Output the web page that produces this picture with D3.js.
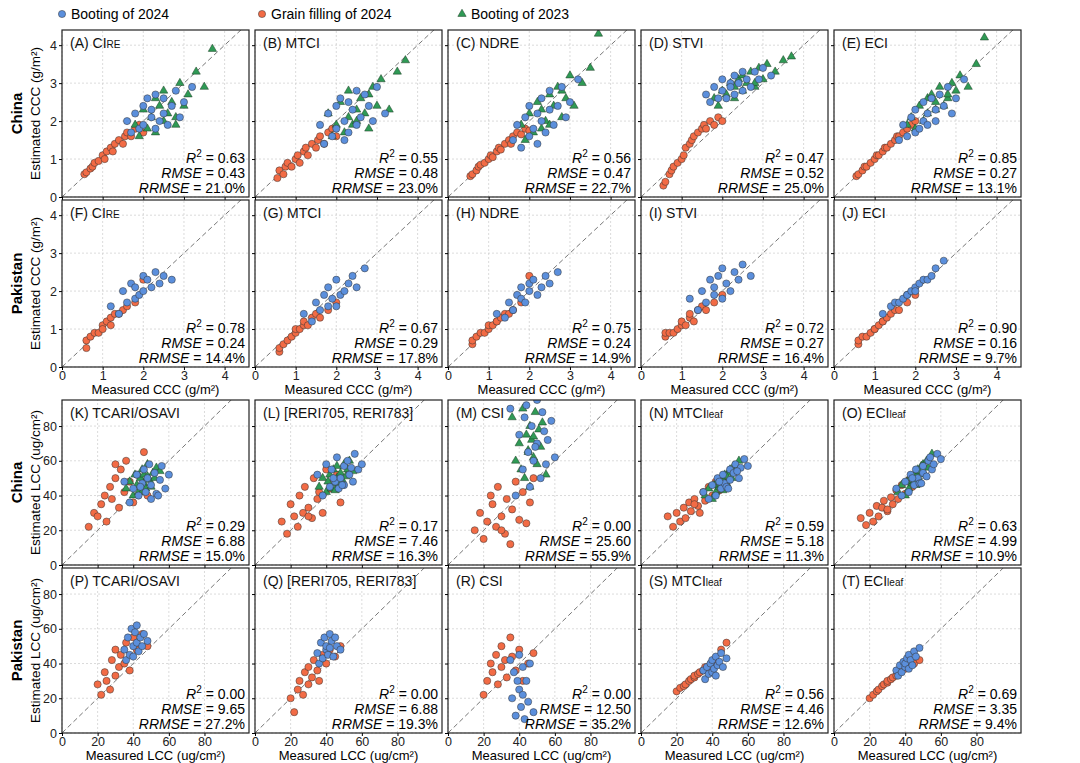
<!DOCTYPE html>
<html><head><meta charset="utf-8">
<script src="https://cdn.jsdelivr.net/npm/d3@7"></script>
<style>body{margin:0;background:#fff;font-family:"Liberation Sans",Arial,sans-serif}</style>
</head><body><svg id="c" width="1080" height="763"></svg>
<script>
// measured values (x) per sample set
const ccB24 = [1.6,1.7,1.8,1.9,2.0,2.0,2.1,2.2,2.2,2.3,2.3,2.4,2.5,2.5,2.6,2.7,2.8,2.9,3.0,3.2];
const ccG24 = [0.55,0.6,0.7,0.75,0.8,0.9,1.0,1.05,1.1,1.2,1.25,1.3,1.4,1.5,1.55,1.6,1.7,1.8,1.9,2.0];
const ccB23 = [1.8,1.9,2.0,2.1,2.2,2.3,2.3,2.4,2.5,2.5,2.6,2.7,2.8,2.9,3.0,3.1,3.3,3.5,3.7,2.8];
const pcB = [1.2,1.4,1.5,1.6,1.7,1.8,1.8,1.9,2.0,2.0,2.1,2.2,2.3,2.4,2.5,2.7];
const pcG = [0.6,0.6,0.7,0.8,0.9,1.0,1.0,1.1,1.2,1.2,1.3,1.4,1.5,1.6,1.8,2.0];
const clB24 = [35,38,40,42,43,45,46,47,48,50,50,52,53,55,56,58,60,44,49,54];
const clG24 = [15,18,20,22,24,25,27,28,30,32,33,35,36,38,40,42,44,46,48,30];
const clB23 = [36,38,40,41,42,43,44,45,46,46,47,48,49,50,51,52,53,55,45,48];
const plB = [35,36,37,38,39,40,40,41,42,42,43,44,45,46,48];
const plG = [20,22,24,25,27,28,30,30,32,33,35,36,38,40,42,45,48];

// panel titles [main, subscript]
const titles = [
 ["(A) CI","RE"],["(B) MTCI",""],["(C) NDRE",""],["(D) STVI",""],["(E) ECI",""],
 ["(F) CI","RE"],["(G) MTCI",""],["(H) NDRE",""],["(I) STVI",""],["(J) ECI",""],
 ["(K) TCARI/OSAVI",""],["(L) [RERI705, RERI783]",""],["(M) CSI",""],["(N) MTCI","leaf"],["(O) ECI","leaf"],
 ["(P) TCARI/OSAVI",""],["(Q) [RERI705, RERI783]",""],["(R) CSI",""],["(S) MTCI","leaf"],["(T) ECI","leaf"]];
const r2 = ["0.63","0.55","0.56","0.47","0.85","0.78","0.67","0.75","0.72","0.90","0.29","0.17","0.00","0.59","0.63","0.00","0.00","0.00","0.56","0.69"];
const rmse = ["0.43","0.48","0.47","0.52","0.27","0.24","0.29","0.24","0.27","0.16","6.88","7.46","25.60","5.18","4.99","9.65","6.88","12.50","4.46","3.35"];
const rrmse = ["21.0%","23.0%","22.7%","25.0%","13.1%","14.4%","17.8%","14.9%","16.4%","9.7%","15.0%","16.3%","55.9%","11.3%","10.9%","27.2%","19.3%","35.2%","12.6%","9.4%"];

// estimated values (y): [grain filling 2024, booting 2024, booting 2023]
const est = [
 [[0.6,0.65,0.75,0.8,0.9,0.95,1.1,1.0,1.2,1.3,1.2,1.4,1.5,1.4,1.6,1.7,1.6,1.8,1.9,1.7],
  [2.0,1.7,2.2,1.8,2.4,1.9,2.6,2.1,2.3,1.8,2.7,2.0,2.2,2.6,1.9,2.4,2.8,2.1,2.5,2.9],
  [1.9,1.6,2.3,1.8,2.1,2.6,1.7,2.4,2.0,2.8,2.2,2.5,1.9,3.0,2.4,2.7,3.3,2.9,3.9,2.1]],
 [[0.5,0.7,0.6,0.8,0.9,0.8,1.0,1.1,0.9,1.2,1.3,1.1,1.4,1.3,1.5,1.6,1.4,1.7,1.8,1.6],
  [1.9,1.4,2.2,1.6,2.4,1.8,2.6,1.5,2.0,2.5,1.7,2.3,2.8,1.9,2.1,2.7,2.4,2.0,2.9,2.2],
  [2.2,1.6,1.9,2.5,1.7,2.1,2.8,1.9,2.3,2.0,2.6,2.2,1.8,2.9,2.4,3.1,2.3,3.3,3.6,2.7]],
 [[0.55,0.6,0.7,0.8,0.85,0.9,1.0,1.1,1.05,1.2,1.3,1.25,1.4,1.5,1.4,1.6,1.7,1.65,1.8,1.75],
  [1.5,1.9,1.3,2.1,1.6,2.4,1.8,1.4,2.2,2.0,2.6,1.7,2.3,2.8,1.9,2.4,2.9,2.1,2.5,3.1],
  [1.9,1.5,2.2,1.7,2.5,1.8,2.3,2.0,2.7,1.9,2.4,2.9,2.1,2.6,3.2,2.4,3.0,3.4,4.3,2.8]],
 [[0.3,0.4,0.6,0.7,0.8,0.9,1.0,1.1,1.3,1.4,1.5,1.6,1.7,1.8,1.9,1.8,2.0,1.9,2.1,2.0],
  [2.7,2.5,2.9,2.6,3.1,2.8,2.6,3.0,2.9,3.2,2.7,3.0,3.3,2.8,3.1,2.9,3.3,3.1,3.4,3.2],
  [2.6,2.4,2.8,2.7,3.0,2.6,2.9,3.1,2.8,3.2,3.0,3.3,2.9,3.4,3.1,3.5,3.3,3.6,3.7,3.0]],
 [[0.55,0.6,0.7,0.8,0.8,0.9,1.0,1.1,1.1,1.2,1.3,1.3,1.4,1.5,1.6,1.6,1.7,1.8,1.9,2.0],
  [1.5,1.9,1.6,2.1,1.7,2.3,1.8,2.0,2.5,2.2,1.9,2.6,2.3,2.0,2.7,2.4,2.9,2.2,2.6,3.1],
  [1.9,2.1,1.8,2.4,2.0,2.6,2.2,2.7,2.3,2.5,2.9,2.4,2.6,3.0,2.8,3.2,2.9,3.5,4.2,2.7]],
 [[0.5,0.7,0.8,0.9,0.9,1.1,1.0,1.2,1.3,1.1,1.4,1.4,1.5,1.6,1.7,2.3],
  [1.6,1.4,2.0,1.7,2.2,1.8,2.1,1.9,2.4,2.0,2.3,2.1,2.5,2.2,2.4,2.3]],
 [[0.4,0.5,0.6,0.7,0.8,0.9,1.0,1.0,1.1,1.2,1.1,1.3,1.4,1.3,1.5,1.7],
  [1.4,1.2,1.7,1.5,1.9,1.6,2.1,1.8,1.6,2.3,1.9,2.0,2.2,2.4,2.1,2.6]],
 [[0.6,0.7,0.8,0.9,0.9,1.0,1.1,1.1,1.2,1.2,1.3,1.4,1.4,1.5,1.7,2.4],
  [1.4,1.3,1.7,1.5,1.9,1.8,2.1,1.7,2.2,2.0,2.3,1.9,2.1,2.4,2.2,2.5]],
 [[0.8,0.9,0.9,0.9,1.0,1.1,1.2,1.1,1.3,1.4,1.2,1.5,1.6,1.5,1.7,1.9],
  [1.8,1.5,2.0,1.7,2.3,1.9,2.1,2.4,1.8,2.6,2.2,2.0,2.5,2.3,2.7,2.4]],
 [[0.6,0.7,0.8,0.8,0.9,1.0,1.0,1.1,1.2,1.2,1.3,1.4,1.5,1.5,1.7,1.9],
  [1.4,1.6,1.7,1.7,1.8,1.9,1.9,2.0,2.1,2.0,2.2,2.3,2.3,2.4,2.6,2.8]],
 [[22,30,28,35,40,25,45,38,50,33,55,42,60,48,36,52,44,65,40,58],
  [48,36,44,52,40,47,55,42,50,38,46,53,41,49,57,44,52,45,58,40],
  [44,48,40,52,46,42,50,55,47,52,44,58,49,45,53,50,56,54,42,51]],
 [[25,18,35,28,22,40,30,45,33,27,50,38,42,30,55,44,48,52,36,28],
  [52,40,58,45,55,48,62,44,50,57,46,60,52,48,64,55,58,50,46,56],
  [45,50,42,48,52,44,55,47,50,57,46,53,49,58,51,55,60,54,43,48]],
 [[20,30,15,25,40,35,22,45,28,18,38,12,32,48,26,42,24,36,50,20],
  [90,40,75,55,85,65,45,80,60,95,70,50,88,58,72,83,62,92,68,77],
  [85,60,70,55,90,50,75,65,80,45,72,62,88,58,78,68,82,52,66,74]],
 [[28,22,30,25,33,27,36,31,38,34,30,42,37,45,40,48,43,50,46,35],
  [42,38,46,40,50,44,52,47,45,55,49,53,58,50,56,61,57,48,44,54],
  [40,44,38,46,42,48,45,50,43,49,52,47,53,55,50,57,54,60,46,51]],
 [[27,23,30,25,34,28,33,37,31,39,35,43,38,46,41,49,45,52,47,32],
  [44,40,48,42,52,46,55,50,47,57,53,51,60,55,58,64,61,50,47,62],
  [42,46,40,48,44,50,47,52,46,53,55,49,57,58,52,60,56,64,48,54]],
 [[28,22,35,30,25,42,33,48,38,45,40,52,36,55,48,57,50],
  [48,42,55,45,60,50,44,58,52,62,47,55,50,57,53]],
 [[20,12,25,30,22,35,28,38,32,42,36,30,45,40,48,44,50],
  [46,40,52,43,55,48,50,45,57,49,53,44,55,50,48]],
 [[22,30,40,35,45,28,50,38,42,32,55,44,36,48,30,40,46],
  [42,20,35,10,30,45,25,15,38,22,8,30,18,40,12]],
 [[24,26,27,28,30,31,32,33,34,35,36,38,37,40,42,48,52],
  [36,31,38,34,40,35,42,37,33,44,39,41,46,38,43]],
 [[20,22,24,25,27,28,29,30,31,32,33,35,36,37,38,40,42],
  [36,33,39,35,41,38,40,43,37,45,42,39,47,44,49]]
];
const measured = [[ccG24,ccB24,ccB23],[pcG,pcB],[clG24,clB24,clB23],[plG,plB]];
const colors = ["#f26b45","#5b8fdc","#2f9a55"];
const legend = ["Booting of 2024","Grain filling of 2024","Booting of 2023"];

const svg = d3.select("#c");
const colX = [62,255,448,641,834], pw = 187;
const rowY = [[30,197],[200,367],[400,565],[568,733]];
const xDom = [[0,4.6],[0,4.6],[0,105],[0,105]];
const yDom = [[0,4.4],[0,4.4],[0,95],[0,95]];
const ticks = [[0,1,2,3,4],[0,1,2,3,4],[0,20,40,60,80],[0,20,40,60,80]];

svg.append("defs").selectAll("clipPath").data(d3.range(20)).join("clipPath")
  .attr("id", i => "cp" + i).append("rect")
  .attr("x", i => colX[i % 5]).attr("y", i => rowY[Math.floor(i / 5)][0])
  .attr("width", pw).attr("height", i => rowY[Math.floor(i / 5)][1] - rowY[Math.floor(i / 5)][0]);

for (let i = 0; i < 20; i++) {
  const r = Math.floor(i / 5), c = i % 5;
  const x = d3.scaleLinear().domain(xDom[r]).range([colX[c], colX[c] + pw]);
  const y = d3.scaleLinear().domain(yDom[r]).range([rowY[r][1], rowY[r][0]]);
  const g = svg.append("g");
  // grid
  g.selectAll(".gx").data(ticks[r]).join("line")
    .attr("x1", d => x(d)).attr("x2", d => x(d)).attr("y1", y.range()[0]).attr("y2", y.range()[1])
    .attr("stroke", "#ccc").attr("stroke-dasharray", "2,2").attr("stroke-width", 0.7);
  g.selectAll(".gy").data(ticks[r]).join("line")
    .attr("y1", d => y(d)).attr("y2", d => y(d)).attr("x1", x.range()[0]).attr("x2", x.range()[1])
    .attr("stroke", "#ccc").attr("stroke-dasharray", "2,2").attr("stroke-width", 0.7);
  // 1:1 line
  const m = xDom[r][1] * 1.2;
  g.append("line").attr("clip-path", `url(#cp${i})`)
    .attr("x1", x(0)).attr("y1", y(0)).attr("x2", x(m)).attr("y2", y(m))
    .attr("stroke", "#777").attr("stroke-dasharray", "5,3").attr("stroke-width", 1);
  // points: grain filling, then booting 2023, then booting 2024
  const ms = measured[r];
  const order = [0, 2, 1].filter(k => k < est[i].length);
  order.forEach(k => {
    const pts = ms[k].map((v, j) => [v, est[i][k][j]]);
    const sel = g.append("g").attr("clip-path", `url(#cp${i})`);
    if (k === 2) {
      sel.selectAll("path").data(pts).join("path")
        .attr("d", d3.symbol(d3.symbolTriangle, 30))
        .attr("transform", d => `translate(${x(d[0])},${y(d[1])})`)
        .attr("fill", colors[k]).attr("stroke", "#1a3a22").attr("stroke-width", 0.5);
    } else {
      sel.selectAll("circle").data(pts).join("circle")
        .attr("cx", d => x(d[0])).attr("cy", d => y(d[1])).attr("r", 3.6)
        .attr("fill", colors[k]).attr("stroke", "#333").attr("stroke-width", 0.5);
    }
  });
  // frame
  g.append("rect").attr("x", colX[c]).attr("y", rowY[r][0]).attr("width", pw)
    .attr("height", rowY[r][1] - rowY[r][0]).attr("fill", "none").attr("stroke", "#222").attr("stroke-width", 1.2);
  // axes
  const showX = (r === 1 || r === 3);
  const ax = g.append("g").attr("transform", `translate(0,${rowY[r][1]})`)
    .call(d3.axisBottom(x).tickValues(ticks[r]).tickSize(3).tickPadding(1).tickFormat(showX ? d3.format("d") : ""));
  const ay = g.append("g").attr("transform", `translate(${colX[c]},0)`)
    .call(d3.axisLeft(y).tickValues(ticks[r]).tickSize(3).tickPadding(2).tickFormat(c === 0 ? d3.format("d") : ""));
  [ax, ay].forEach(a => { a.select(".domain").remove(); a.selectAll("text").attr("font-size", 12.5).attr("fill", "#222").attr("font-family", "Liberation Sans, Arial"); });
  // title
  const t = g.append("text").attr("x", colX[c] + 8).attr("y", rowY[r][0] + 18).attr("font-size", 14).attr("fill", "#111");
  t.append("tspan").text(titles[i][0]);
  if (titles[i][1]) t.append("tspan").attr("font-size", 10).text(titles[i][1]);
  // stats
  const sx = colX[c] + pw - 4, sb = rowY[r][1] - 4;
  const s1 = g.append("text").attr("x", sx).attr("y", sb - 30).attr("text-anchor", "end").attr("font-size", 14);
  s1.append("tspan").attr("font-style", "italic").text("R");
  s1.append("tspan").attr("font-size", 10).attr("dy", -6).text("2");
  s1.append("tspan").attr("dy", 6).text(" = " + r2[i]);
  const s2 = g.append("text").attr("x", sx).attr("y", sb - 15).attr("text-anchor", "end").attr("font-size", 14);
  s2.append("tspan").attr("font-style", "italic").text("RMSE");
  s2.append("tspan").text(" = " + rmse[i]);
  const s3 = g.append("text").attr("x", sx).attr("y", sb).attr("text-anchor", "end").attr("font-size", 14);
  s3.append("tspan").attr("font-style", "italic").text("RRMSE");
  s3.append("tspan").text(" = " + rrmse[i]);
  // x axis titles
  if (showX) {
    g.append("text").attr("x", colX[c] + pw / 2).attr("y", rowY[r][1] + 27).attr("text-anchor", "middle")
      .attr("font-size", 13).text(r === 1 ? "Measured CCC (g/m²)" : "Measured LCC (ug/cm²)");
  }
}
// row labels
const rowNames = ["China","Pakistan","China","Pakistan"];
const yTitles = ["Estimated CCC (g/m²)","Estimated CCC (g/m²)","Estimated LCC (ug/cm²)","Estimated LCC (ug/cm²)"];
rowY.forEach((ry, r) => {
  const cy = (ry[0] + ry[1]) / 2;
  svg.append("text").attr("transform", `translate(22,${cy}) rotate(-90)`).attr("text-anchor", "middle")
    .attr("font-size", 15).attr("font-weight", "bold").text(rowNames[r]);
  svg.append("text").attr("transform", `translate(40,${cy}) rotate(-90)`).attr("text-anchor", "middle")
    .attr("font-size", 13.5).text(yTitles[r]);
});
// legend
const lx = [62, 262, 462], lc = [1, 0, 2];
legend.forEach((name, k) => {
  const g = svg.append("g").attr("transform", `translate(${lx[k]},14)`);
  if (lc[k] === 2) g.append("path").attr("d", d3.symbol(d3.symbolTriangle, 30)).attr("fill", colors[2]).attr("stroke", "#1a3a22").attr("stroke-width", 0.5);
  else g.append("circle").attr("r", 3.6).attr("fill", colors[lc[k]]).attr("stroke", "#333").attr("stroke-width", 0.5);
  g.append("text").attr("x", 9).attr("y", 5).attr("font-size", 14).text(name);
});
</script></body></html>
